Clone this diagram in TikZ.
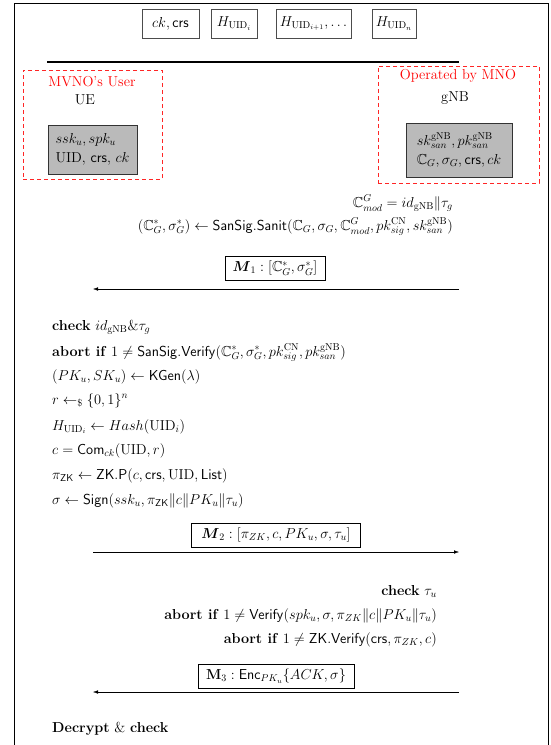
\documentclass[tikz,border=0pt]{standalone}
\usepackage{amsmath}
\usepackage{amssymb}
\usetikzlibrary{positioning, arrows.meta}
\tikzstyle{Msg} = [thin, -{Latex[length=5pt, width=3.5pt]}]
\tikzstyle{Field} = [draw=black!70, thin, minimum height=29pt, inner sep=3pt]
\tikzstyle{Party} = [draw=red!85, dashed, thick, dash pattern=on 4pt off 3pt]
\tikzstyle{Keys} = [draw=black!80, fill=black!27, thick, align=left, inner sep=4pt]
\tikzstyle{MsgBox} = [draw, thin, inner sep=3pt, minimum height=24pt]
\tikzstyle{UeStep} = [anchor=base west, inner sep=0pt]
\tikzstyle{NbStep} = [anchor=base east, inner sep=0pt]

\begin{document}
\begin{tikzpicture}[x=1pt, y=-1pt, font=\fontsize{14.4}{19}\selectfont]
	\useasboundingbox (0,0) rectangle (551,745);
	%frame:
		\coordinate (fBL) at (14,745);
		\coordinate (fTL) at (14,3);
		\coordinate (fTR) at (548,3);
		\coordinate (fBR) at (548,745);
		\draw (fBL) -- (fTL) -- (fTR) -- (fBR);
	%public list:
		\node [Field, minimum width=57pt] (ck) at (170.5,23.5) {$ck, \mathsf{crs}$};
		\node [Field, minimum width=46pt] (h1) at (234,23.5) {$H_{\mathrm{UID}_i}$};
		\node [Field, minimum width=75pt] (h2) at (313.5,23.5) {$H_{\mathrm{UID}_{i+1}}, \ldots$};
		\node [Field, minimum width=44pt] (hn) at (394,23.5) {$H_{\mathrm{UID}_n}$};
		\coordinate (barL) at (47,62);
		\coordinate (barR) at (459,62);
		\draw [line width=1.5pt] (barL) -- (barR);
	%parties:
		\node [Party, minimum width=139pt, minimum height=109pt] (user) at (92.5,124.5) {};
		\node [red] (userT) at (92,82) {MVNO's User};
		\node (ue) at (85,100) {UE};
		\node [Keys, minimum width=89pt, minimum height=49pt] (ukeys) at (92.5,149.5)
			{$ssk_u, spk_u$\\UID, $\mathsf{crs}$, $ck$};
		\node [Party, minimum width=161pt, minimum height=117pt] (mno) at (458.5,124.5) {};
		\node [red] (mnoT) at (458,76) {Operated by MNO};
		\node (gnb) at (455,98) {gNB};
		\node [Keys, minimum width=106pt, minimum height=54pt] (nkeys) at (459,150)
			{$sk^{\mathrm{gNB}}_{san}, pk^{\mathrm{gNB}}_{san}$\\$\mathbb{C}_G, \sigma_G, \mathsf{crs}, ck$};
	%gNB sanitizes:
		\node [NbStep] (mod) at (453,207) {$\mathbb{C}^G_{mod} = id_{\mathrm{gNB}} \| \tau_g$};
		\node [NbStep] (sanit) at (453,230) {$(\mathbb{C}^*_G, \sigma^*_G) \leftarrow \mathsf{SanSig.Sanit}(\mathbb{C}_G, \sigma_G, \mathbb{C}^G_{mod}, pk^{\mathrm{CN}}_{sig}, sk^{\mathrm{gNB}}_{san})$};
		\node [MsgBox, minimum width=100pt] (m1) at (275,268) {$\boldsymbol{M}_1 : [\mathbb{C}^*_G, \sigma^*_G]$};
		\coordinate (m1R) at (459,289);
		\coordinate (m1L) at (93,289);
		\draw [Msg] (m1R) -- (m1L);
	%UE side:
		\node [UeStep] (chk) at (52,330) {\textbf{check} $id_{\mathrm{gNB}} \& \tau_g$};
		\node [UeStep] (abrt) at (52,356) {\textbf{abort if} $1 \neq \mathsf{SanSig.Verify}(\mathbb{C}^*_G, \sigma^*_G, pk^{\mathrm{CN}}_{sig}, pk^{\mathrm{gNB}}_{san})$};
		\node [UeStep] (kgen) at (52,380) {$(PK_u, SK_u) \leftarrow \mathsf{KGen}(\lambda)$};
		\node [UeStep] (rnd) at (52,404) {$r \leftarrow_{\$} \{0,1\}^n$};
		\node [UeStep] (hsh) at (52,430) {$H_{\mathrm{UID}_i} \leftarrow Hash(\mathrm{UID}_i)$};
		\node [UeStep] (com) at (52,454) {$c = \mathsf{Com}_{ck}(\mathrm{UID}, r)$};
		\node [UeStep] (prv) at (52,479) {$\pi_{\mathsf{ZK}} \leftarrow \mathsf{ZK.P}(c, \mathsf{crs}, \mathrm{UID}, \mathsf{List})$};
		\node [UeStep] (sgn) at (52,504) {$\sigma \leftarrow \mathsf{Sign}(ssk_u, \pi_{\mathsf{ZK}} \| c \| PK_u \| \tau_u)$};
		\node [MsgBox, minimum width=169pt] (m2) at (276,535) {$\boldsymbol{M}_2 : [\pi_{ZK}, c, PK_u, \sigma, \tau_u]$};
		\coordinate (m2L) at (93,552);
		\coordinate (m2R) at (459,552);
		\draw [Msg] (m2L) -- (m2R);
	%gNB verifies:
		\node [NbStep] (chkt) at (437,595) {\textbf{check} $\tau_u$};
		\node [NbStep] (vrf) at (437,619) {\textbf{abort if} $1 \neq \mathsf{Verify}(spk_u, \sigma, \pi_{ZK} \| c \| PK_u \| \tau_u)$};
		\node [NbStep] (zkv) at (437,643) {\textbf{abort if} $1 \neq \mathsf{ZK.Verify}(\mathsf{crs}, \pi_{ZK}, c)$};
		\node [MsgBox, minimum width=156pt] (m3) at (276,676) {$\mathbf{M}_3 : \mathsf{Enc}_{PK_u}\{ACK, \sigma\}$};
		\coordinate (m3R) at (459,692);
		\coordinate (m3L) at (93,692);
		\draw [Msg] (m3R) -- (m3L);
	%UE decrypts:
		\node [UeStep] (dec) at (52,732) {\textbf{Decrypt} \& \textbf{check}};
\end{tikzpicture}
\end{document}
